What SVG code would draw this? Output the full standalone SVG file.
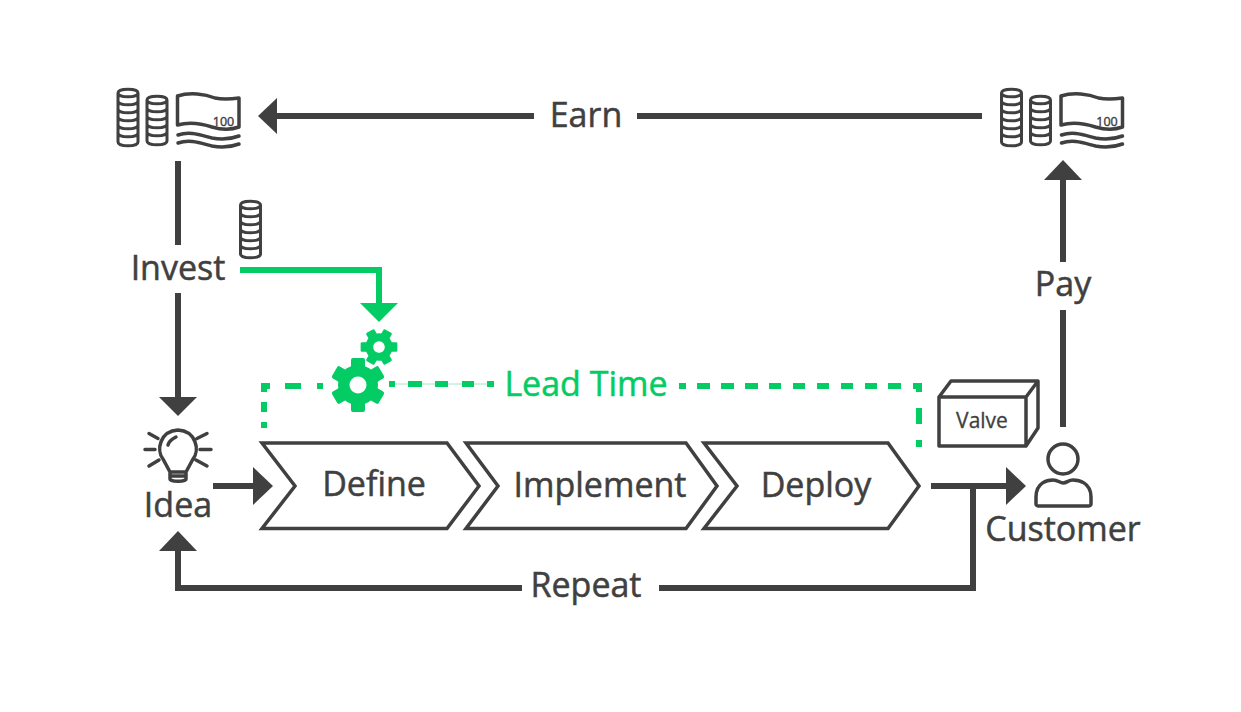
<svg xmlns="http://www.w3.org/2000/svg" width="1241" height="712" viewBox="0 0 1241 712">
<style>
text{font-family:"Open Sans","Noto Sans","Liberation Sans",sans-serif;fill:#404040;text-anchor:middle}
.l{font-size:34px;stroke:#404040;stroke-width:.5px}
.lg{fill:#04cc65;stroke:#04cc65}
.g{fill:#04cc65}
.c{fill:none;stroke:#404040;stroke-width:6;stroke-linejoin:miter}
.gc{fill:none;stroke:#04cc65;stroke-width:6}
.d{fill:none;stroke:#04cc65;stroke-width:6}
.chev{fill:none;stroke:#404040;stroke-width:3.5}
.ic{fill:none;stroke:#404040;stroke-width:3.5;stroke-linecap:round;stroke-linejoin:round}
.ah{fill:#404040}
.co{fill:none;stroke:#404040;stroke-width:3}
</style>
<defs>
<g id="coin7"><path class="co" d="M-10-25C-10-30 10-30 10-25V24C10 29-10 29-10 24ZM-10-25C-10-20 10-20 10-25M-10-17C-10-12 10-12 10-17M-10-9C-10-4 10-4 10-9M-10-1C-10 4 10 4 10-1M-10 7C-10 12 10 12 10 7M-10 15C-10 20 10 20 10 15"/></g>
<g id="coin6"><path class="co" d="M-10-21C-10-26 10-26 10-21V20C10 25-10 25-10 20ZM-10-21C-10-16 10-16 10-21M-10-13C-10-8 10-8 10-13M-10-5C-10 0 10 0 10-5M-10 3C-10 8 10 8 10 3M-10 11C-10 16 10 16 10 11"/></g>
<g id="money">
<use href="#coin7" x="128" y="118"/>
<use href="#coin6" x="157" y="121"/>
<path class="ic" d="M177.500 96C190 92 205 94 215 98C224 100 232 99 239 98V127C231 130 222 130 212 127C200 123 188 122 177.500 125Z"/>
<path class="ic" d="M178 135C190 131 200 135 212 138C222 140 231 139 239 136M178 143C190 139 200 143 212 146C222 148 231 147 239 144"/>
<text x="223.500" y="126" style="font-size:12.500px;stroke:#404040;stroke-width:.4px">100</text>
</g>
<g id="gear"><circle r="20" class="g"/><g class="g"><rect x="-7" y="-27" width="14" height="14" rx="2"/><rect x="-7" y="-27" width="14" height="14" rx="2" transform="rotate(60)"/><rect x="-7" y="-27" width="14" height="14" rx="2" transform="rotate(120)"/><rect x="-7" y="-27" width="14" height="14" rx="2" transform="rotate(180)"/><rect x="-7" y="-27" width="14" height="14" rx="2" transform="rotate(240)"/><rect x="-7" y="-27" width="14" height="14" rx="2" transform="rotate(300)"/></g><circle r="8.500" fill="#fff"/></g>
</defs>
<rect width="1241" height="712" fill="#fff"/>
<g id="connectors">
<path class="c" d="M534 116H272"/><path class="ah" d="M277 98L258 116L277 134Z"/>
<path class="c" d="M982 116H637"/>
<path class="c" d="M178 161V245"/>
<path class="c" d="M178 293V399"/><path class="ah" d="M159 397H197L178 416Z"/>
<path class="gc" d="M240 270H379V305"/><path class="g" d="M360 303H398L379 322Z"/>
<path class="c" d="M213 486H255"/><path class="ah" d="M253 467L273 486L253 505Z"/>
<path class="c" d="M931 486H1010"/><path class="ah" d="M1006 467L1026 486L1006 505Z"/>
<path class="c" d="M973 486V588H659"/>
<path class="c" d="M522 588H178V550"/><path class="ah" d="M159 551L178 531L197 551Z"/>
<path class="c" d="M1063 427V310"/>
<path class="c" d="M1063 262V178"/><path class="ah" d="M1044 180L1063 160L1082 180Z"/>
<g id="lead-time-dashes">
<path stroke="#a6e8c6" stroke-width="1" fill="none" d="M395 384H487"/>
<path class="d" d="M264 392V386H270M264 402V412M264 422V428"/>
<path class="d" d="M285 386H301M317 386H323"/>
<path class="d" d="M389 384H395M408 384H422M435 384H448M462 384H474M487 384H494"/>
<path class="d" d="M679 386H686M697 386H710M721 386H734M745 386H758M769 386H781M793 386H805M817 386H829M841 386H853M865 386H877M888 386H901M913 386H919V392"/>
<path class="d" d="M919 408V424M919 440V447"/>
</g>
</g>
<g id="money-left"><use href="#money"/></g>
<g id="money-right"><use href="#money" x="883.500"/></g>
<g id="invest-coin"><use href="#coin7" x="250.500" y="230"/></g>
<g id="gears">
<use href="#gear" transform="translate(379,347) rotate(30) scale(.68)"/>
<use href="#gear" transform="translate(358,385)"/>
</g>
<g id="idea">
<path class="ic" d="M170 472L163 459C156 450 160 431 178 430C196 431 200 450 193 459L186 472ZM170 472V479C170 482 186 482 186 479V472M171 476H185M168 445C169 441 172 439 176 437M145 449.500H155M200 449.500H211M149 433.500L158 438.500M207 433.500L197 438.500M149 466L159 460M207 466L196 460"/>
<text class="l" x="178" y="517">Idea</text>
</g>
<g id="define"><path class="chev" d="M262 443H447L479 486L447 528.500H262L295 486Z"/><text class="l" x="374" y="496">Define</text></g>
<g id="implement"><path class="chev" d="M466 443H686L717 486L686 528.500H466L498 486Z"/><text class="l" x="600" y="497">Implement</text></g>
<g id="deploy"><path class="chev" d="M704 443H888L919 486L888 528.500H704L737 486Z"/><text class="l" x="816" y="497">Deploy</text></g>
<g id="valve"><path class="ic" d="M939 397H1026V446H939ZM939 397L951 381H1038L1026 397M1038 381V428L1026 446"/><text x="982" y="428" style="font-size:21px;stroke:#404040;stroke-width:.3px">Valve</text></g>
<g id="customer"><circle class="ic" cx="1063" cy="459" r="15"/><path class="ic" d="M1036 497C1036 482 1048 480 1053 480C1058 480 1060 483 1063 483C1067 483 1068 480 1073 480C1078 480 1091 482 1091 497V504C1091 505 1090 506 1089 506H1038C1037 506 1036 505 1036 504Z"/><text class="l" x="1063" y="541">Customer</text></g>
<text class="l" x="586" y="127">Earn</text>
<text class="l" x="178" y="280">Invest</text>
<text class="l" x="1063" y="296">Pay</text>
<text class="l" x="586" y="597">Repeat</text>
<text class="l lg" x="586" y="396">Lead Time</text>
</svg>
